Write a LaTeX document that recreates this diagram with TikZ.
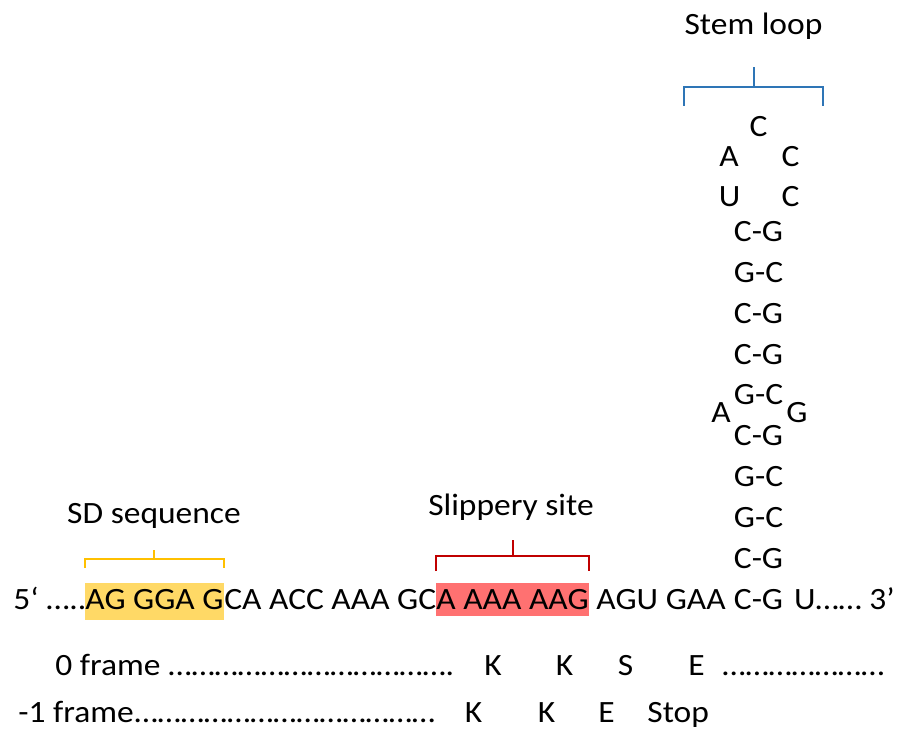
\documentclass[tikz,border=0pt]{standalone}
\usepackage{fontspec}
\setmainfont{Carlito}[FakeStretch=1.08]
\usepackage{tikz}

\definecolor{sdfill}{HTML}{FFD966}
\definecolor{sdline}{HTML}{FFC000}
\definecolor{slipfill}{HTML}{FF7171}
\definecolor{slipline}{HTML}{C00000}
\definecolor{loopline}{HTML}{2E75B6}

\newcommand{\dotrun}[1]{\foreach \k in {1,...,#1}{…}}

\begin{document}
\begin{tikzpicture}[x=0.5pt, y=0.5pt,
  every node/.style={font=\fontsize{15.5}{18}\selectfont},
  seq/.style={inner sep=0pt, anchor=base west},
  nt/.style={inner sep=0pt, anchor=base},
  hl/.style={text height=13pt, text depth=5.5pt},
  brk/.style={line width=1pt}]
  \useasboundingbox (0,0) rectangle (897,728);
  % main sequence
  \node[seq] (five) at (13,119) {5‘ …..};
  \node[seq, hl, fill=sdfill] (sd) at (85,119) {AG GGA G};
  \node[seq] (mid) at (sd.base east) {CA ACC AAA GC};
  \node[seq, hl, text depth=3.5pt, fill=slipfill] (slip) at (436,119) {A AAA AAG};
  \node[seq] (post) at ([xshift=3.5pt]slip.base east) {AGU GAA};
  \node[nt] (stembase) at (758.5,119) {C-G};
  \node[seq, anchor=base east] (tail) at (895,119) {U…… 3’};
  % stem
  \foreach \p [count=\i] in {C-G,G-C,G-C,C-G,G-C,C-G,C-G,G-C,C-G}
    \node[nt] (s\i) at ([yshift=\i*20.4pt]stembase.base) {\p};
  \node[nt] (bulgeA) at (721,306) {A};
  \node[nt] (bulgeG) at (797,306) {G};
  \node[nt] (loopU) at (729.5,521) {U};
  \node[nt] (loopC1) at (790.5,521) {C};
  \node[nt] (loopA) at (729,561) {A};
  \node[nt] (loopC2) at (790.5,561) {C};
  \node[nt] (loopC3) at (758.5,591) {C};
  % labels and brackets
  \node[nt] (sdlabel) at (154,205) {SD sequence};
  \draw[brk, sdline] (sd.west |- 0,160) -- (sd.west |- 0,169) -- (sd.east |- 0,169) -- (sd.east |- 0,160);
  \draw[brk, sdline] (sd.center |- 0,169) -- (sd.center |- 0,178);
  \node[nt] (sliplabel) at (511,213) {Slippery site};
  \draw[brk, slipline] (slip.west |- 0,157) -- (slip.west |- 0,172) -- (slip.east |- 0,172) -- (slip.east |- 0,157);
  \draw[brk, slipline] (slip.center |- 0,172) -- (slip.center |- 0,188);
  \node[nt] (looplabel) at (753.5,693) {Stem loop};
  \draw[brk, loopline] (684,622) -- (684,641) -- (823,641) -- (823,622);
  \draw[brk, loopline] (754,641) -- (754,661);
  % reading frames
  \node[seq] (f0) at (55,53) {0 frame};
  \node[seq] (f0dots) at (168,53) {\dotrun{12}.};
  \node[nt] (f0k1) at (493,53) {K};
  \node[nt] (f0k2) at (564.5,53) {K};
  \node[nt] (f0s) at (625.5,53) {S};
  \node[nt] (f0e) at (696.5,53) {E};
  \node[seq] (f0end) at (722,53) {\dotrun{7}};
  \node[seq] (f1) at (18,6) {-1 frame};
  \node[seq] (f1dots) at (f1.base east) {\dotrun{13}};
  \node[nt] (f1k1) at (473.5,6) {K};
  \node[nt] (f1k2) at (546.5,6) {K};
  \node[nt] (f1e) at (606.5,6) {E};
  \node[seq] (f1stop) at (647,6) {Stop};
\end{tikzpicture}
\end{document}
